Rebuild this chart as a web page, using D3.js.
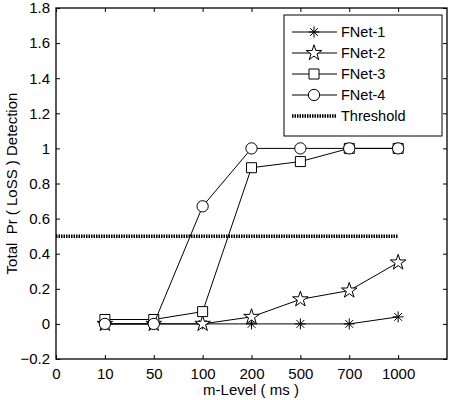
<!DOCTYPE html>
<html>
<head>
<meta charset="utf-8">
<script src="https://cdn.jsdelivr.net/npm/d3@7"></script>
<style>
  body { margin: 0; background: #fff; }
  svg text { font-family: "Liberation Sans", Arial, Helvetica, sans-serif; font-size: 15px; fill: #000; }
  svg .legend text { font-size: 14.5px; }
</style>
</head>
<body>
<svg width="454" height="400"></svg>
<script>
const svg = d3.select('svg');

// x positions are equally spaced categories
const xLabels = ['0', '10', '50', '100', '200', '500', '700', '1000'];
const levels = ['10', '50', '100', '200', '500', '700', '1000'];
const yTicks = [-0.2, 0, 0.2, 0.4, 0.6, 0.8, 1, 1.2, 1.4, 1.6, 1.8];

const fnet1 = [0, 0, 0, 0, 0, 0, 0.04];
const fnet2 = [0, 0, 0, 0.04, 0.14, 0.19, 0.35];
const fnet3 = [0.025, 0.025, 0.07, 0.89, 0.925, 1, 1];
const fnet4 = [0, 0, 0.67, 1, 1, 1, 1];
const threshold = 0.5;
const thresholdRange = ['0', '1000'];

const seriesNames = ['FNet-1', 'FNet-2', 'FNet-3', 'FNet-4'];
const seriesValues = [fnet1, fnet2, fnet3, fnet4];
const markers = ['asterisk', 'star', 'square', 'circle'];

const margin = {top: 8, right: 7, bottom: 41, left: 56};
const width = 454, height = 400;
const innerWidth = width - margin.left - margin.right;
const innerHeight = height - margin.top - margin.bottom;

const xIndex = label => xLabels.indexOf(label);
const xScale = d3.scaleLinear().domain([0, 8]).range([0, innerWidth]);
const yScale = d3.scaleLinear().domain([-0.2, 1.8]).range([innerHeight, 0]);

const g = svg.append('g')
  .attr('transform', `translate(${margin.left}, ${margin.top})`);

// axes
const tickIdx = d3.range(xLabels.length);
const xAxis = d3.axisBottom(xScale).tickValues(tickIdx)
  .tickFormat(i => xLabels[i]).tickSize(-4).tickPadding(9);
const xAxisTop = d3.axisTop(xScale).tickValues(tickIdx).tickSize(-4);
const yAxis = d3.axisLeft(yScale).tickValues(yTicks)
  .tickFormat(d => d3.format('')(+d.toFixed(1))).tickSize(-4).tickPadding(6);
const yAxisRight = d3.axisRight(yScale).tickValues(yTicks).tickSize(-4);

const styleAxis = sel => {
  sel.select('.domain').remove();
  sel.selectAll('line').attr('stroke', '#000');
  sel.selectAll('text').attr('font-size', null).attr('font-family', null);
};
const noLabels = sel => sel.selectAll('text').remove();

g.append('g').attr('transform', `translate(0, ${innerHeight})`).call(xAxis).call(styleAxis);
g.append('g').call(xAxisTop).call(styleAxis).call(noLabels);
g.append('g').call(yAxis).call(styleAxis);
g.append('g').attr('transform', `translate(${innerWidth}, 0)`).call(yAxisRight).call(styleAxis).call(noLabels);

g.append('rect')
  .attr('width', innerWidth).attr('height', innerHeight)
  .attr('fill', 'none').attr('stroke', '#000').attr('stroke-width', 1.3);

// marker shapes
const asteriskPath = r => {
  const d = r * Math.SQRT1_2;
  return `M${-r},0L${r},0M0,${-r}L0,${r}M${-d},${-d}L${d},${d}M${-d},${d}L${d},${-d}`;
};
const markerPath = (type) => {
  if (type === 'asterisk') return asteriskPath(5.5);
  if (type === 'star') return d3.symbol(d3.symbolStar, 75)();
  if (type === 'square') return d3.symbol(d3.symbolSquare, 100)();
  return d3.symbol(d3.symbolCircle, 100)();
};

const drawMarker = (sel, type) => sel.append('path')
  .attr('d', markerPath(type))
  .attr('fill', type === 'asterisk' ? 'none' : '#fff')
  .attr('stroke', '#000')
  .attr('stroke-width', 1);

const line = d3.line()
  .x((d, i) => xScale(xIndex(levels[i])))
  .y(d => yScale(d));

seriesValues.forEach((vals, s) => {
  g.append('path')
    .attr('d', line(vals))
    .attr('fill', 'none')
    .attr('stroke', '#000')
    .attr('stroke-width', 1);
  vals.forEach((v, i) => {
    const m = g.append('g')
      .attr('transform', `translate(${xScale(xIndex(levels[i]))}, ${yScale(v)})`);
    drawMarker(m, markers[s]);
  });
});

// threshold
g.append('line')
  .attr('x1', xScale(xIndex(thresholdRange[0])))
  .attr('x2', xScale(xIndex(thresholdRange[1])))
  .attr('y1', yScale(threshold))
  .attr('y2', yScale(threshold))
  .attr('stroke', '#000')
  .attr('stroke-width', 3.5)
  .attr('stroke-dasharray', '1.5,1');

// legend
const legend = svg.append('g').attr('class', 'legend').attr('transform', 'translate(284, 15)');
legend.append('rect')
  .attr('width', 158).attr('height', 121)
  .attr('fill', '#fff').attr('stroke', '#000').attr('stroke-width', 1);

const legendNames = seriesNames.concat(['Threshold']);
legendNames.forEach((name, i) => {
  const y = 17 + i * 21;
  const row = legend.append('g').attr('transform', `translate(0, ${y})`);
  if (i < 4) {
    row.append('line').attr('x1', 8).attr('x2', 53)
      .attr('stroke', '#000').attr('stroke-width', 1);
    const m = row.append('g').attr('transform', 'translate(30, 0)');
    drawMarker(m, markers[i]);
  } else {
    row.append('line').attr('x1', 8).attr('x2', 53)
      .attr('stroke', '#000').attr('stroke-width', 3.5)
      .attr('stroke-dasharray', '1.5,1');
  }
  row.append('text').attr('x', 57).attr('dy', '0.35em').text(name);
});

// axis labels
svg.append('text')
  .attr('x', 251)
  .attr('y', 395)
  .attr('text-anchor', 'middle')
  .text('m-Level ( ms )');

svg.append('text')
  .attr('transform', `translate(17, ${margin.top + innerHeight / 2}) rotate(-90)`)
  .attr('text-anchor', 'middle')
  .text('Total  Pr ( LoSS ) Detection')
  .style('white-space', 'pre');
</script>
</body>
</html>
